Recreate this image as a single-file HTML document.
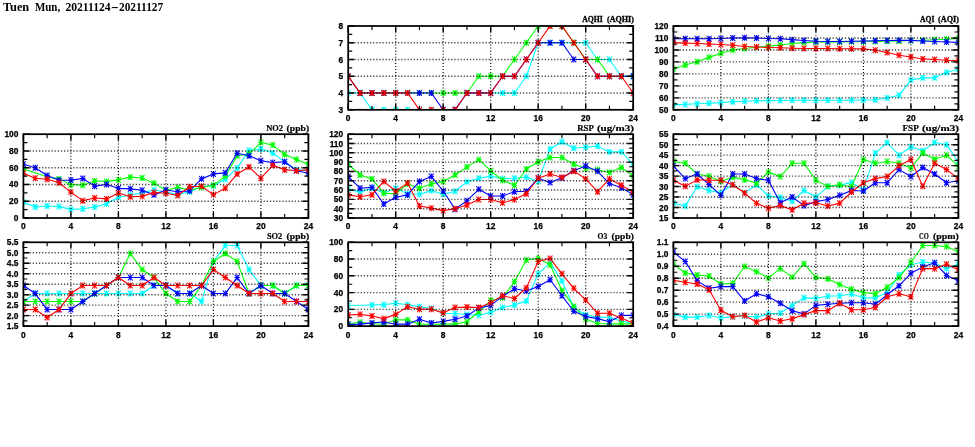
<!DOCTYPE html>
<html><head><meta charset="utf-8"><title>Tuen Mun, 20211124-20211127</title>
<style>
html,body{margin:0;padding:0;background:#fff}
svg{display:block}
.ttl{font-family:"Liberation Serif",serif;font-weight:bold;font-size:12px;fill:#000}
.tl{font-family:"Liberation Sans",sans-serif;font-weight:bold;font-size:8.4px;fill:#000;stroke:#000;stroke-width:0.25}
.ct{font-family:"Liberation Serif",serif;font-weight:bold;font-size:9.2px;fill:#000;stroke:#000;stroke-width:0.2}
.ct2{font-family:"Liberation Serif",serif;font-weight:bold;font-size:8.4px;fill:#000;stroke:#000;stroke-width:0.3}
.gv{stroke:#000;stroke-width:1.2;stroke-dasharray:1.1 1.97;stroke-opacity:.95;fill:none}
.gh{stroke:#000;stroke-width:1.4;stroke-dasharray:1.25 1.87;stroke-opacity:.72;fill:none}
.tk{stroke:#000;stroke-width:1.4;fill:none}
.tkm{stroke:#000;stroke-width:1.15;fill:none}
.fr{stroke:#000;stroke-width:1.75;fill:none}
.ln{fill:none;stroke-width:1.1;stroke-linejoin:round}
</style></head>
<body>
<svg width="975" height="447" viewBox="0 0 975 447">
<defs><g id="m"><path d="M-2.4,-2.9L2.4,2.9M-2.4,2.9L2.4,-2.9M0,-3L0,3M-2.7,0L2.7,0" fill="none" stroke-width="1.05"/></g></defs>
<rect width="975" height="447" fill="#fff"/>
<text y="10.9" class="ttl"><tspan x="3" textLength="26.2" lengthAdjust="spacingAndGlyphs">Tuen</tspan> <tspan x="34.9" textLength="25.3" lengthAdjust="spacingAndGlyphs">Mun,</tspan> <tspan x="65.4" textLength="45.2" lengthAdjust="spacingAndGlyphs">20211124</tspan><tspan x="111.1" textLength="7.7" lengthAdjust="spacingAndGlyphs">-</tspan><tspan x="119" textLength="44.2" lengthAdjust="spacingAndGlyphs">20211127</tspan></text>
<g>
<clipPath id="cp1"><rect x="348.2" y="26" width="285" height="83.8"/></clipPath>
<g clip-path="url(#cp1)">
<polyline class="ln" stroke="#00ffff" points="348.2,93.04 360.07,93.04 371.95,109.8 383.82,109.8 395.7,109.8 407.57,109.8 419.45,109.8 431.32,109.8 443.2,109.8 455.07,109.8 466.95,93.04 478.82,93.04 490.7,93.04 502.57,93.04 514.45,93.04 526.33,76.28 538.2,42.76 550.08,42.76 561.95,42.76 573.83,42.76 585.7,42.76 597.58,59.52 609.45,59.52 621.33,76.28 633.2,76.28"/>
<g stroke="#00ffff"><use href="#m" x="348.2" y="93.04"/><use href="#m" x="360.07" y="93.04"/><use href="#m" x="371.95" y="109.8"/><use href="#m" x="383.82" y="109.8"/><use href="#m" x="395.7" y="109.8"/><use href="#m" x="407.57" y="109.8"/><use href="#m" x="419.45" y="109.8"/><use href="#m" x="431.32" y="109.8"/><use href="#m" x="443.2" y="109.8"/><use href="#m" x="455.07" y="109.8"/><use href="#m" x="466.95" y="93.04"/><use href="#m" x="478.82" y="93.04"/><use href="#m" x="490.7" y="93.04"/><use href="#m" x="502.57" y="93.04"/><use href="#m" x="514.45" y="93.04"/><use href="#m" x="526.33" y="76.28"/><use href="#m" x="538.2" y="42.76"/><use href="#m" x="550.08" y="42.76"/><use href="#m" x="561.95" y="42.76"/><use href="#m" x="573.83" y="42.76"/><use href="#m" x="585.7" y="42.76"/><use href="#m" x="597.58" y="59.52"/><use href="#m" x="609.45" y="59.52"/><use href="#m" x="621.33" y="76.28"/><use href="#m" x="633.2" y="76.28"/></g>
<polyline class="ln" stroke="#00ff00" points="348.2,76.28 360.07,93.04 371.95,93.04 383.82,93.04 395.7,93.04 407.57,93.04 419.45,93.04 431.32,93.04 443.2,93.04 455.07,93.04 466.95,93.04 478.82,76.28 490.7,76.28 502.57,76.28 514.45,59.52 526.33,42.76 538.2,26 550.08,26 561.95,26 573.83,42.76 585.7,59.52 597.58,59.52 609.45,76.28 621.33,76.28 633.2,76.28"/>
<g stroke="#00ff00"><use href="#m" x="348.2" y="76.28"/><use href="#m" x="360.07" y="93.04"/><use href="#m" x="371.95" y="93.04"/><use href="#m" x="383.82" y="93.04"/><use href="#m" x="395.7" y="93.04"/><use href="#m" x="407.57" y="93.04"/><use href="#m" x="419.45" y="93.04"/><use href="#m" x="431.32" y="93.04"/><use href="#m" x="443.2" y="93.04"/><use href="#m" x="455.07" y="93.04"/><use href="#m" x="466.95" y="93.04"/><use href="#m" x="478.82" y="76.28"/><use href="#m" x="490.7" y="76.28"/><use href="#m" x="502.57" y="76.28"/><use href="#m" x="514.45" y="59.52"/><use href="#m" x="526.33" y="42.76"/><use href="#m" x="538.2" y="26"/><use href="#m" x="550.08" y="26"/><use href="#m" x="561.95" y="26"/><use href="#m" x="573.83" y="42.76"/><use href="#m" x="585.7" y="59.52"/><use href="#m" x="597.58" y="59.52"/><use href="#m" x="609.45" y="76.28"/><use href="#m" x="621.33" y="76.28"/><use href="#m" x="633.2" y="76.28"/></g>
<polyline class="ln" stroke="#0000ff" points="348.2,76.28 360.07,93.04 371.95,93.04 383.82,93.04 395.7,93.04 407.57,93.04 419.45,93.04 431.32,93.04 443.2,109.8 455.07,109.8 466.95,93.04 478.82,93.04 490.7,93.04 502.57,76.28 514.45,76.28 526.33,59.52 538.2,42.76 550.08,42.76 561.95,42.76 573.83,59.52 585.7,59.52 597.58,76.28 609.45,76.28 621.33,76.28 633.2,76.28"/>
<g stroke="#0000ff"><use href="#m" x="348.2" y="76.28"/><use href="#m" x="360.07" y="93.04"/><use href="#m" x="371.95" y="93.04"/><use href="#m" x="383.82" y="93.04"/><use href="#m" x="395.7" y="93.04"/><use href="#m" x="407.57" y="93.04"/><use href="#m" x="419.45" y="93.04"/><use href="#m" x="431.32" y="93.04"/><use href="#m" x="443.2" y="109.8"/><use href="#m" x="455.07" y="109.8"/><use href="#m" x="466.95" y="93.04"/><use href="#m" x="478.82" y="93.04"/><use href="#m" x="490.7" y="93.04"/><use href="#m" x="502.57" y="76.28"/><use href="#m" x="514.45" y="76.28"/><use href="#m" x="526.33" y="59.52"/><use href="#m" x="538.2" y="42.76"/><use href="#m" x="550.08" y="42.76"/><use href="#m" x="561.95" y="42.76"/><use href="#m" x="573.83" y="59.52"/><use href="#m" x="585.7" y="59.52"/><use href="#m" x="597.58" y="76.28"/><use href="#m" x="609.45" y="76.28"/><use href="#m" x="621.33" y="76.28"/><use href="#m" x="633.2" y="76.28"/></g>
<polyline class="ln" stroke="#ff0000" points="348.2,76.28 360.07,93.04 371.95,93.04 383.82,93.04 395.7,93.04 407.57,93.04 419.45,109.8 431.32,109.8 443.2,109.8 455.07,109.8 466.95,93.04 478.82,93.04 490.7,93.04 502.57,76.28 514.45,76.28 526.33,59.52 538.2,42.76 550.08,26 561.95,26 573.83,42.76 585.7,59.52 597.58,76.28 609.45,76.28 621.33,76.28 633.2,93.04"/>
<g stroke="#ff0000"><use href="#m" x="348.2" y="76.28"/><use href="#m" x="360.07" y="93.04"/><use href="#m" x="371.95" y="93.04"/><use href="#m" x="383.82" y="93.04"/><use href="#m" x="395.7" y="93.04"/><use href="#m" x="407.57" y="93.04"/><use href="#m" x="419.45" y="109.8"/><use href="#m" x="431.32" y="109.8"/><use href="#m" x="443.2" y="109.8"/><use href="#m" x="455.07" y="109.8"/><use href="#m" x="466.95" y="93.04"/><use href="#m" x="478.82" y="93.04"/><use href="#m" x="490.7" y="93.04"/><use href="#m" x="502.57" y="76.28"/><use href="#m" x="514.45" y="76.28"/><use href="#m" x="526.33" y="59.52"/><use href="#m" x="538.2" y="42.76"/><use href="#m" x="550.08" y="26"/><use href="#m" x="561.95" y="26"/><use href="#m" x="573.83" y="42.76"/><use href="#m" x="585.7" y="59.52"/><use href="#m" x="597.58" y="76.28"/><use href="#m" x="609.45" y="76.28"/><use href="#m" x="621.33" y="76.28"/><use href="#m" x="633.2" y="93.04"/></g>
</g>
<path class="gv" d="M395.7,26V109.8M443.2,26V109.8M490.7,26V109.8M538.2,26V109.8M585.7,26V109.8"/>
<path class="gh" d="M348.2,93.04H633.2M348.2,76.28H633.2M348.2,59.52H633.2M348.2,42.76H633.2"/>
<path class="tk" d="M348.2,109.8v-6 M348.2,26v6M395.7,109.8v-6 M395.7,26v6M443.2,109.8v-6 M443.2,26v6M490.7,109.8v-6 M490.7,26v6M538.2,109.8v-6 M538.2,26v6M585.7,109.8v-6 M585.7,26v6M633.2,109.8v-6 M633.2,26v6M348.2,109.8h6 M633.2,109.8h-6M348.2,93.04h6 M633.2,93.04h-6M348.2,76.28h6 M633.2,76.28h-6M348.2,59.52h6 M633.2,59.52h-6M348.2,42.76h6 M633.2,42.76h-6M348.2,26h6 M633.2,26h-6"/>
<path class="tkm" d="M371.95,109.8v-4 M371.95,26v4M419.45,109.8v-4 M419.45,26v4M466.95,109.8v-4 M466.95,26v4M514.45,109.8v-4 M514.45,26v4M561.95,109.8v-4 M561.95,26v4M609.45,109.8v-4 M609.45,26v4M348.2,101.42h4 M633.2,101.42h-4M348.2,84.66h4 M633.2,84.66h-4M348.2,67.9h4 M633.2,67.9h-4M348.2,51.14h4 M633.2,51.14h-4M348.2,34.38h4 M633.2,34.38h-4"/>
<rect class="fr" x="348.2" y="26" width="285" height="83.8"/>
<text class="tl" text-anchor="end" x="343.2" y="112.8">3</text>
<text class="tl" text-anchor="end" x="343.2" y="96.04">4</text>
<text class="tl" text-anchor="end" x="343.2" y="79.28">5</text>
<text class="tl" text-anchor="end" x="343.2" y="62.52">6</text>
<text class="tl" text-anchor="end" x="343.2" y="45.76">7</text>
<text class="tl" text-anchor="end" x="343.2" y="29">8</text>
<text class="tl" text-anchor="middle" x="348.2" y="121.2">0</text>
<text class="tl" text-anchor="middle" x="395.7" y="121.2">4</text>
<text class="tl" text-anchor="middle" x="443.2" y="121.2">8</text>
<text class="tl" text-anchor="middle" x="490.7" y="121.2">12</text>
<text class="tl" text-anchor="middle" x="538.2" y="121.2">16</text>
<text class="tl" text-anchor="middle" x="585.7" y="121.2">20</text>
<text class="tl" text-anchor="middle" x="633.2" y="121.2">24</text>
<text class="ct2" y="22.3"><tspan x="582.2" textLength="20.5" lengthAdjust="spacingAndGlyphs">AQHI</tspan> <tspan x="607" textLength="26.9" lengthAdjust="spacingAndGlyphs">(AQHI)</tspan></text>
</g>
<g>
<clipPath id="cp2"><rect x="673.4" y="26" width="285" height="83.8"/></clipPath>
<g clip-path="url(#cp2)">
<polyline class="ln" stroke="#00ffff" points="673.4,104.89 685.27,104.41 697.15,103.81 709.02,103.22 720.9,102.62 732.77,101.66 744.65,101.3 756.52,100.82 768.4,100.46 780.27,100.46 792.15,100.22 804.02,100.22 815.9,100.22 827.77,100.22 839.65,100.22 851.52,100.22 863.4,99.98 875.27,99.74 887.15,98.07 899.02,95.31 910.9,79.87 922.77,77.84 934.65,77.84 946.52,72.45 958.4,69.22"/>
<g stroke="#00ffff"><use href="#m" x="673.4" y="104.89"/><use href="#m" x="685.27" y="104.41"/><use href="#m" x="697.15" y="103.81"/><use href="#m" x="709.02" y="103.22"/><use href="#m" x="720.9" y="102.62"/><use href="#m" x="732.77" y="101.66"/><use href="#m" x="744.65" y="101.3"/><use href="#m" x="756.52" y="100.82"/><use href="#m" x="768.4" y="100.46"/><use href="#m" x="780.27" y="100.46"/><use href="#m" x="792.15" y="100.22"/><use href="#m" x="804.02" y="100.22"/><use href="#m" x="815.9" y="100.22"/><use href="#m" x="827.77" y="100.22"/><use href="#m" x="839.65" y="100.22"/><use href="#m" x="851.52" y="100.22"/><use href="#m" x="863.4" y="99.98"/><use href="#m" x="875.27" y="99.74"/><use href="#m" x="887.15" y="98.07"/><use href="#m" x="899.02" y="95.31"/><use href="#m" x="910.9" y="79.87"/><use href="#m" x="922.77" y="77.84"/><use href="#m" x="934.65" y="77.84"/><use href="#m" x="946.52" y="72.45"/><use href="#m" x="958.4" y="69.22"/></g>
<polyline class="ln" stroke="#00ff00" points="673.4,69.1 685.27,64.91 697.15,61.67 709.02,57.37 720.9,53.18 732.77,49.94 744.65,48.51 756.52,47.19 768.4,46.11 780.27,45.03 792.15,43.48 804.02,42.64 815.9,41.92 827.77,42.04 839.65,42.04 851.52,41.8 863.4,41.68 875.27,41.44 887.15,41.2 899.02,40.96 910.9,40.49 922.77,40.25 934.65,39.77 946.52,39.29 958.4,38.45"/>
<g stroke="#00ff00"><use href="#m" x="673.4" y="69.1"/><use href="#m" x="685.27" y="64.91"/><use href="#m" x="697.15" y="61.67"/><use href="#m" x="709.02" y="57.37"/><use href="#m" x="720.9" y="53.18"/><use href="#m" x="732.77" y="49.94"/><use href="#m" x="744.65" y="48.51"/><use href="#m" x="756.52" y="47.19"/><use href="#m" x="768.4" y="46.11"/><use href="#m" x="780.27" y="45.03"/><use href="#m" x="792.15" y="43.48"/><use href="#m" x="804.02" y="42.64"/><use href="#m" x="815.9" y="41.92"/><use href="#m" x="827.77" y="42.04"/><use href="#m" x="839.65" y="42.04"/><use href="#m" x="851.52" y="41.8"/><use href="#m" x="863.4" y="41.68"/><use href="#m" x="875.27" y="41.44"/><use href="#m" x="887.15" y="41.2"/><use href="#m" x="899.02" y="40.96"/><use href="#m" x="910.9" y="40.49"/><use href="#m" x="922.77" y="40.25"/><use href="#m" x="934.65" y="39.77"/><use href="#m" x="946.52" y="39.29"/><use href="#m" x="958.4" y="38.45"/></g>
<polyline class="ln" stroke="#0000ff" points="673.4,38.81 685.27,38.81 697.15,38.69 709.02,38.69 720.9,38.45 732.77,37.97 744.65,37.73 756.52,37.97 768.4,38.45 780.27,38.81 792.15,39.65 804.02,40.49 815.9,41.2 827.77,41.44 839.65,41.44 851.52,41.2 863.4,40.96 875.27,40.72 887.15,40.49 899.02,40.37 910.9,40.37 922.77,40.96 934.65,41.56 946.52,42.04 958.4,42.4"/>
<g stroke="#0000ff"><use href="#m" x="673.4" y="38.81"/><use href="#m" x="685.27" y="38.81"/><use href="#m" x="697.15" y="38.69"/><use href="#m" x="709.02" y="38.69"/><use href="#m" x="720.9" y="38.45"/><use href="#m" x="732.77" y="37.97"/><use href="#m" x="744.65" y="37.73"/><use href="#m" x="756.52" y="37.97"/><use href="#m" x="768.4" y="38.45"/><use href="#m" x="780.27" y="38.81"/><use href="#m" x="792.15" y="39.65"/><use href="#m" x="804.02" y="40.49"/><use href="#m" x="815.9" y="41.2"/><use href="#m" x="827.77" y="41.44"/><use href="#m" x="839.65" y="41.44"/><use href="#m" x="851.52" y="41.2"/><use href="#m" x="863.4" y="40.96"/><use href="#m" x="875.27" y="40.72"/><use href="#m" x="887.15" y="40.49"/><use href="#m" x="899.02" y="40.37"/><use href="#m" x="910.9" y="40.37"/><use href="#m" x="922.77" y="40.96"/><use href="#m" x="934.65" y="41.56"/><use href="#m" x="946.52" y="42.04"/><use href="#m" x="958.4" y="42.4"/></g>
<polyline class="ln" stroke="#ff0000" points="673.4,42.64 685.27,43.12 697.15,43.48 709.02,43.96 720.9,44.44 732.77,45.27 744.65,46.47 756.52,46.95 768.4,47.43 780.27,47.79 792.15,48.27 804.02,48.51 815.9,48.51 827.77,48.51 839.65,48.75 851.52,48.75 863.4,48.87 875.27,50.18 887.15,52.46 899.02,55.33 910.9,57.01 922.77,58.92 934.65,59.52 946.52,60.24 958.4,60.6"/>
<g stroke="#ff0000"><use href="#m" x="673.4" y="42.64"/><use href="#m" x="685.27" y="43.12"/><use href="#m" x="697.15" y="43.48"/><use href="#m" x="709.02" y="43.96"/><use href="#m" x="720.9" y="44.44"/><use href="#m" x="732.77" y="45.27"/><use href="#m" x="744.65" y="46.47"/><use href="#m" x="756.52" y="46.95"/><use href="#m" x="768.4" y="47.43"/><use href="#m" x="780.27" y="47.79"/><use href="#m" x="792.15" y="48.27"/><use href="#m" x="804.02" y="48.51"/><use href="#m" x="815.9" y="48.51"/><use href="#m" x="827.77" y="48.51"/><use href="#m" x="839.65" y="48.75"/><use href="#m" x="851.52" y="48.75"/><use href="#m" x="863.4" y="48.87"/><use href="#m" x="875.27" y="50.18"/><use href="#m" x="887.15" y="52.46"/><use href="#m" x="899.02" y="55.33"/><use href="#m" x="910.9" y="57.01"/><use href="#m" x="922.77" y="58.92"/><use href="#m" x="934.65" y="59.52"/><use href="#m" x="946.52" y="60.24"/><use href="#m" x="958.4" y="60.6"/></g>
</g>
<path class="gv" d="M720.9,26V109.8M768.4,26V109.8M815.9,26V109.8M863.4,26V109.8M910.9,26V109.8"/>
<path class="gh" d="M673.4,97.83H958.4M673.4,85.86H958.4M673.4,73.89H958.4M673.4,61.91H958.4M673.4,49.94H958.4M673.4,37.97H958.4"/>
<path class="tk" d="M673.4,109.8v-6 M673.4,26v6M720.9,109.8v-6 M720.9,26v6M768.4,109.8v-6 M768.4,26v6M815.9,109.8v-6 M815.9,26v6M863.4,109.8v-6 M863.4,26v6M910.9,109.8v-6 M910.9,26v6M958.4,109.8v-6 M958.4,26v6M673.4,109.8h6 M958.4,109.8h-6M673.4,97.83h6 M958.4,97.83h-6M673.4,85.86h6 M958.4,85.86h-6M673.4,73.89h6 M958.4,73.89h-6M673.4,61.91h6 M958.4,61.91h-6M673.4,49.94h6 M958.4,49.94h-6M673.4,37.97h6 M958.4,37.97h-6M673.4,26h6 M958.4,26h-6"/>
<path class="tkm" d="M697.15,109.8v-4 M697.15,26v4M744.65,109.8v-4 M744.65,26v4M792.15,109.8v-4 M792.15,26v4M839.65,109.8v-4 M839.65,26v4M887.15,109.8v-4 M887.15,26v4M934.65,109.8v-4 M934.65,26v4M673.4,103.81h4 M958.4,103.81h-4M673.4,91.84h4 M958.4,91.84h-4M673.4,79.87h4 M958.4,79.87h-4M673.4,67.9h4 M958.4,67.9h-4M673.4,55.93h4 M958.4,55.93h-4M673.4,43.96h4 M958.4,43.96h-4M673.4,31.99h4 M958.4,31.99h-4"/>
<rect class="fr" x="673.4" y="26" width="285" height="83.8"/>
<text class="tl" text-anchor="end" x="668.4" y="112.8">50</text>
<text class="tl" text-anchor="end" x="668.4" y="100.83">60</text>
<text class="tl" text-anchor="end" x="668.4" y="88.86">70</text>
<text class="tl" text-anchor="end" x="668.4" y="76.89">80</text>
<text class="tl" text-anchor="end" x="668.4" y="64.91">90</text>
<text class="tl" text-anchor="end" x="668.4" y="52.94">100</text>
<text class="tl" text-anchor="end" x="668.4" y="40.97">110</text>
<text class="tl" text-anchor="end" x="668.4" y="29">120</text>
<text class="tl" text-anchor="middle" x="673.4" y="121.2">0</text>
<text class="tl" text-anchor="middle" x="720.9" y="121.2">4</text>
<text class="tl" text-anchor="middle" x="768.4" y="121.2">8</text>
<text class="tl" text-anchor="middle" x="815.9" y="121.2">12</text>
<text class="tl" text-anchor="middle" x="863.4" y="121.2">16</text>
<text class="tl" text-anchor="middle" x="910.9" y="121.2">20</text>
<text class="tl" text-anchor="middle" x="958.4" y="121.2">24</text>
<text class="ct2" y="22.3"><tspan x="920" textLength="14.4" lengthAdjust="spacingAndGlyphs">AQI</tspan> <tspan x="938" textLength="21" lengthAdjust="spacingAndGlyphs">(AQI)</tspan></text>
</g>
<g>
<clipPath id="cp3"><rect x="23.4" y="134.2" width="285" height="83.8"/></clipPath>
<g clip-path="url(#cp3)">
<polyline class="ln" stroke="#00ffff" points="23.4,202.33 35.27,207.02 47.15,206.02 59.02,206.6 70.9,209.37 82.78,208.78 94.65,207.11 106.53,203.84 118.4,197.22 130.28,194.95 142.15,192.86 154.03,189.93 165.9,192.02 177.78,194.62 189.65,191.69 201.53,186.74 213.4,185.65 225.28,179.28 237.15,167.97 249.03,150.37 260.9,148.95 272.77,152.97 284.65,161.85 296.52,169.65 308.4,170.74"/>
<g stroke="#00ffff"><use href="#m" x="23.4" y="202.33"/><use href="#m" x="35.27" y="207.02"/><use href="#m" x="47.15" y="206.02"/><use href="#m" x="59.02" y="206.6"/><use href="#m" x="70.9" y="209.37"/><use href="#m" x="82.78" y="208.78"/><use href="#m" x="94.65" y="207.11"/><use href="#m" x="106.53" y="203.84"/><use href="#m" x="118.4" y="197.22"/><use href="#m" x="130.28" y="194.95"/><use href="#m" x="142.15" y="192.86"/><use href="#m" x="154.03" y="189.93"/><use href="#m" x="165.9" y="192.02"/><use href="#m" x="177.78" y="194.62"/><use href="#m" x="189.65" y="191.69"/><use href="#m" x="201.53" y="186.74"/><use href="#m" x="213.4" y="185.65"/><use href="#m" x="225.28" y="179.28"/><use href="#m" x="237.15" y="167.97"/><use href="#m" x="249.03" y="150.37"/><use href="#m" x="260.9" y="148.95"/><use href="#m" x="272.77" y="152.97"/><use href="#m" x="284.65" y="161.85"/><use href="#m" x="296.52" y="169.65"/><use href="#m" x="308.4" y="170.74"/></g>
<polyline class="ln" stroke="#00ff00" points="23.4,168.98 47.15,176.69 59.02,178.87 70.9,184.65 82.78,185.32 94.65,180.96 106.53,181.38 118.4,179.87 130.28,177.11 142.15,177.94 154.03,183.14 165.9,190.18 177.78,187.41 189.65,189.93 201.53,187.41 213.4,185.32 225.28,176.1 237.15,155.74 249.03,154.06 260.9,142.58 272.77,145.09 284.65,154.48 296.52,159.59 308.4,164.37"/>
<g stroke="#00ff00"><use href="#m" x="23.4" y="168.98"/><use href="#m" x="47.15" y="176.69"/><use href="#m" x="59.02" y="178.87"/><use href="#m" x="70.9" y="184.65"/><use href="#m" x="82.78" y="185.32"/><use href="#m" x="94.65" y="180.96"/><use href="#m" x="106.53" y="181.38"/><use href="#m" x="118.4" y="179.87"/><use href="#m" x="130.28" y="177.11"/><use href="#m" x="142.15" y="177.94"/><use href="#m" x="154.03" y="183.14"/><use href="#m" x="165.9" y="190.18"/><use href="#m" x="177.78" y="187.41"/><use href="#m" x="189.65" y="189.93"/><use href="#m" x="201.53" y="187.41"/><use href="#m" x="213.4" y="185.32"/><use href="#m" x="225.28" y="176.1"/><use href="#m" x="237.15" y="155.74"/><use href="#m" x="249.03" y="154.06"/><use href="#m" x="260.9" y="142.58"/><use href="#m" x="272.77" y="145.09"/><use href="#m" x="284.65" y="154.48"/><use href="#m" x="296.52" y="159.59"/><use href="#m" x="308.4" y="164.37"/></g>
<polyline class="ln" stroke="#0000ff" points="23.4,164.28 35.27,167.72 47.15,175.43 59.02,180.29 70.9,180.12 82.78,178.45 94.65,186.16 106.53,184.48 118.4,188.33 130.28,188.84 142.15,190.18 154.03,194.87 165.9,189.93 177.78,191.69 189.65,190.85 201.53,178.87 213.4,173.92 225.28,172.83 237.15,153.22 249.03,155.74 260.9,160.68 272.77,162.61 284.65,161.77 296.52,170.74 308.4,173.25"/>
<g stroke="#0000ff"><use href="#m" x="23.4" y="164.28"/><use href="#m" x="35.27" y="167.72"/><use href="#m" x="47.15" y="175.43"/><use href="#m" x="59.02" y="180.29"/><use href="#m" x="70.9" y="180.12"/><use href="#m" x="82.78" y="178.45"/><use href="#m" x="94.65" y="186.16"/><use href="#m" x="106.53" y="184.48"/><use href="#m" x="118.4" y="188.33"/><use href="#m" x="130.28" y="188.84"/><use href="#m" x="142.15" y="190.18"/><use href="#m" x="154.03" y="194.87"/><use href="#m" x="165.9" y="189.93"/><use href="#m" x="177.78" y="191.69"/><use href="#m" x="189.65" y="190.85"/><use href="#m" x="201.53" y="178.87"/><use href="#m" x="213.4" y="173.92"/><use href="#m" x="225.28" y="172.83"/><use href="#m" x="237.15" y="153.22"/><use href="#m" x="249.03" y="155.74"/><use href="#m" x="260.9" y="160.68"/><use href="#m" x="272.77" y="162.61"/><use href="#m" x="284.65" y="161.77"/><use href="#m" x="296.52" y="170.74"/><use href="#m" x="308.4" y="173.25"/></g>
<polyline class="ln" stroke="#ff0000" points="23.4,173.25 35.27,178.19 47.15,179.28 59.02,182.72 70.9,192.11 82.78,200.65 94.65,198.06 106.53,198.89 118.4,192.94 130.28,196.8 142.15,196.38 154.03,192.52 165.9,193.2 177.78,195.54 189.65,186.74 201.53,186.32 213.4,194.62 225.28,188.25 237.15,173.92 249.03,167.05 260.9,178.19 272.77,165.37 284.65,169.65 296.52,170.74 308.4,169.65"/>
<g stroke="#ff0000"><use href="#m" x="23.4" y="173.25"/><use href="#m" x="35.27" y="178.19"/><use href="#m" x="47.15" y="179.28"/><use href="#m" x="59.02" y="182.72"/><use href="#m" x="70.9" y="192.11"/><use href="#m" x="82.78" y="200.65"/><use href="#m" x="94.65" y="198.06"/><use href="#m" x="106.53" y="198.89"/><use href="#m" x="118.4" y="192.94"/><use href="#m" x="130.28" y="196.8"/><use href="#m" x="142.15" y="196.38"/><use href="#m" x="154.03" y="192.52"/><use href="#m" x="165.9" y="193.2"/><use href="#m" x="177.78" y="195.54"/><use href="#m" x="189.65" y="186.74"/><use href="#m" x="201.53" y="186.32"/><use href="#m" x="213.4" y="194.62"/><use href="#m" x="225.28" y="188.25"/><use href="#m" x="237.15" y="173.92"/><use href="#m" x="249.03" y="167.05"/><use href="#m" x="260.9" y="178.19"/><use href="#m" x="272.77" y="165.37"/><use href="#m" x="284.65" y="169.65"/><use href="#m" x="296.52" y="170.74"/><use href="#m" x="308.4" y="169.65"/></g>
</g>
<path class="gv" d="M70.9,134.2V218M118.4,134.2V218M165.9,134.2V218M213.4,134.2V218M260.9,134.2V218"/>
<path class="gh" d="M23.4,201.24H308.4M23.4,184.48H308.4M23.4,167.72H308.4M23.4,150.96H308.4"/>
<path class="tk" d="M23.4,218v-6 M23.4,134.2v6M70.9,218v-6 M70.9,134.2v6M118.4,218v-6 M118.4,134.2v6M165.9,218v-6 M165.9,134.2v6M213.4,218v-6 M213.4,134.2v6M260.9,218v-6 M260.9,134.2v6M308.4,218v-6 M308.4,134.2v6M23.4,218h6 M308.4,218h-6M23.4,201.24h6 M308.4,201.24h-6M23.4,184.48h6 M308.4,184.48h-6M23.4,167.72h6 M308.4,167.72h-6M23.4,150.96h6 M308.4,150.96h-6M23.4,134.2h6 M308.4,134.2h-6"/>
<path class="tkm" d="M47.15,218v-4 M47.15,134.2v4M94.65,218v-4 M94.65,134.2v4M142.15,218v-4 M142.15,134.2v4M189.65,218v-4 M189.65,134.2v4M237.15,218v-4 M237.15,134.2v4M284.65,218v-4 M284.65,134.2v4M23.4,209.62h4 M308.4,209.62h-4M23.4,192.86h4 M308.4,192.86h-4M23.4,176.1h4 M308.4,176.1h-4M23.4,159.34h4 M308.4,159.34h-4M23.4,142.58h4 M308.4,142.58h-4"/>
<rect class="fr" x="23.4" y="134.2" width="285" height="83.8"/>
<text class="tl" text-anchor="end" x="18.4" y="221">0</text>
<text class="tl" text-anchor="end" x="18.4" y="204.24">20</text>
<text class="tl" text-anchor="end" x="18.4" y="187.48">40</text>
<text class="tl" text-anchor="end" x="18.4" y="170.72">60</text>
<text class="tl" text-anchor="end" x="18.4" y="153.96">80</text>
<text class="tl" text-anchor="end" x="18.4" y="137.2">100</text>
<text class="tl" text-anchor="middle" x="23.4" y="229.4">0</text>
<text class="tl" text-anchor="middle" x="70.9" y="229.4">4</text>
<text class="tl" text-anchor="middle" x="118.4" y="229.4">8</text>
<text class="tl" text-anchor="middle" x="165.9" y="229.4">12</text>
<text class="tl" text-anchor="middle" x="213.4" y="229.4">16</text>
<text class="tl" text-anchor="middle" x="260.9" y="229.4">20</text>
<text class="tl" text-anchor="middle" x="308.4" y="229.4">24</text>
<text class="ct" y="130.9"><tspan x="266.2" textLength="16.8" lengthAdjust="spacingAndGlyphs">NO2</tspan> <tspan x="286.6" textLength="22.6" lengthAdjust="spacingAndGlyphs">(ppb)</tspan></text>
</g>
<g>
<clipPath id="cp4"><rect x="348.2" y="134.2" width="285" height="83.8"/></clipPath>
<g clip-path="url(#cp4)">
<polyline class="ln" stroke="#00ffff" points="348.2,189.32 360.07,192.12 371.95,188.2 383.82,192.86 395.7,188.2 407.57,193.79 419.45,194.26 431.32,190.63 443.2,194.26 455.07,191.28 466.95,181.87 478.82,178.24 490.7,176.1 502.57,178.61 514.45,178.24 526.33,177.12 538.2,181.41 550.08,148.91 561.95,141.84 573.83,148.26 585.7,147.24 597.58,146.12 609.45,151.89 621.33,151.89 633.2,164.27"/>
<g stroke="#00ffff"><use href="#m" x="348.2" y="189.32"/><use href="#m" x="360.07" y="192.12"/><use href="#m" x="371.95" y="188.2"/><use href="#m" x="383.82" y="192.86"/><use href="#m" x="395.7" y="188.2"/><use href="#m" x="407.57" y="193.79"/><use href="#m" x="419.45" y="194.26"/><use href="#m" x="431.32" y="190.63"/><use href="#m" x="443.2" y="194.26"/><use href="#m" x="455.07" y="191.28"/><use href="#m" x="466.95" y="181.87"/><use href="#m" x="478.82" y="178.24"/><use href="#m" x="490.7" y="176.1"/><use href="#m" x="502.57" y="178.61"/><use href="#m" x="514.45" y="178.24"/><use href="#m" x="526.33" y="177.12"/><use href="#m" x="538.2" y="181.41"/><use href="#m" x="550.08" y="148.91"/><use href="#m" x="561.95" y="141.84"/><use href="#m" x="573.83" y="148.26"/><use href="#m" x="585.7" y="147.24"/><use href="#m" x="597.58" y="146.12"/><use href="#m" x="609.45" y="151.89"/><use href="#m" x="621.33" y="151.89"/><use href="#m" x="633.2" y="164.27"/></g>
<polyline class="ln" stroke="#00ff00" points="348.2,164.27 360.07,174.98 371.95,178.89 383.82,193.14 395.7,193.88 407.57,184.01 419.45,188.2 431.32,184.01 443.2,181.41 455.07,174.98 466.95,166.88 478.82,159.62 490.7,170.7 502.57,180.38 514.45,185.22 526.33,169.02 538.2,161.76 550.08,157.48 561.95,157.48 573.83,164.27 585.7,168.56 597.58,169.68 609.45,172.47 621.33,167.53 633.2,176.1"/>
<g stroke="#00ff00"><use href="#m" x="348.2" y="164.27"/><use href="#m" x="360.07" y="174.98"/><use href="#m" x="371.95" y="178.89"/><use href="#m" x="383.82" y="193.14"/><use href="#m" x="395.7" y="193.88"/><use href="#m" x="407.57" y="184.01"/><use href="#m" x="419.45" y="188.2"/><use href="#m" x="431.32" y="184.01"/><use href="#m" x="443.2" y="181.41"/><use href="#m" x="455.07" y="174.98"/><use href="#m" x="466.95" y="166.88"/><use href="#m" x="478.82" y="159.62"/><use href="#m" x="490.7" y="170.7"/><use href="#m" x="502.57" y="180.38"/><use href="#m" x="514.45" y="185.22"/><use href="#m" x="526.33" y="169.02"/><use href="#m" x="538.2" y="161.76"/><use href="#m" x="550.08" y="157.48"/><use href="#m" x="561.95" y="157.48"/><use href="#m" x="573.83" y="164.27"/><use href="#m" x="585.7" y="168.56"/><use href="#m" x="597.58" y="169.68"/><use href="#m" x="609.45" y="172.47"/><use href="#m" x="621.33" y="167.53"/><use href="#m" x="633.2" y="176.1"/></g>
<polyline class="ln" stroke="#0000ff" points="348.2,176.66 360.07,188.2 371.95,187.37 383.82,204.03 395.7,197.24 407.57,194.91 419.45,181.41 431.32,176.47 443.2,191 455.07,209.15 466.95,200.68 478.82,189.32 490.7,195.93 502.57,195.93 514.45,191.65 526.33,191.28 538.2,178.24 550.08,182.43 561.95,177.78 573.83,170.7 585.7,166.04 597.58,171.35 609.45,183.55 621.33,187.83 633.2,194.63"/>
<g stroke="#0000ff"><use href="#m" x="348.2" y="176.66"/><use href="#m" x="360.07" y="188.2"/><use href="#m" x="371.95" y="187.37"/><use href="#m" x="383.82" y="204.03"/><use href="#m" x="395.7" y="197.24"/><use href="#m" x="407.57" y="194.91"/><use href="#m" x="419.45" y="181.41"/><use href="#m" x="431.32" y="176.47"/><use href="#m" x="443.2" y="191"/><use href="#m" x="455.07" y="209.15"/><use href="#m" x="466.95" y="200.68"/><use href="#m" x="478.82" y="189.32"/><use href="#m" x="490.7" y="195.93"/><use href="#m" x="502.57" y="195.93"/><use href="#m" x="514.45" y="191.65"/><use href="#m" x="526.33" y="191.28"/><use href="#m" x="538.2" y="178.24"/><use href="#m" x="550.08" y="182.43"/><use href="#m" x="561.95" y="177.78"/><use href="#m" x="573.83" y="170.7"/><use href="#m" x="585.7" y="166.04"/><use href="#m" x="597.58" y="171.35"/><use href="#m" x="609.45" y="183.55"/><use href="#m" x="621.33" y="187.83"/><use href="#m" x="633.2" y="194.63"/></g>
<polyline class="ln" stroke="#ff0000" points="348.2,194.91 360.07,196.77 371.95,194.72 383.82,181.41 395.7,191.28 407.57,183.08 419.45,205.99 431.32,208.13 443.2,210.64 455.07,208.78 466.95,204.96 478.82,199.56 490.7,199.56 502.57,202.82 514.45,199.56 526.33,193.79 538.2,178.24 550.08,173.96 561.95,177.59 573.83,171.17 585.7,178.89 597.58,191.65 609.45,178.89 621.33,185.22 633.2,192.12"/>
<g stroke="#ff0000"><use href="#m" x="348.2" y="194.91"/><use href="#m" x="360.07" y="196.77"/><use href="#m" x="371.95" y="194.72"/><use href="#m" x="383.82" y="181.41"/><use href="#m" x="395.7" y="191.28"/><use href="#m" x="407.57" y="183.08"/><use href="#m" x="419.45" y="205.99"/><use href="#m" x="431.32" y="208.13"/><use href="#m" x="443.2" y="210.64"/><use href="#m" x="455.07" y="208.78"/><use href="#m" x="466.95" y="204.96"/><use href="#m" x="478.82" y="199.56"/><use href="#m" x="490.7" y="199.56"/><use href="#m" x="502.57" y="202.82"/><use href="#m" x="514.45" y="199.56"/><use href="#m" x="526.33" y="193.79"/><use href="#m" x="538.2" y="178.24"/><use href="#m" x="550.08" y="173.96"/><use href="#m" x="561.95" y="177.59"/><use href="#m" x="573.83" y="171.17"/><use href="#m" x="585.7" y="178.89"/><use href="#m" x="597.58" y="191.65"/><use href="#m" x="609.45" y="178.89"/><use href="#m" x="621.33" y="185.22"/><use href="#m" x="633.2" y="192.12"/></g>
</g>
<path class="gv" d="M395.7,134.2V218M443.2,134.2V218M490.7,134.2V218M538.2,134.2V218M585.7,134.2V218"/>
<path class="gh" d="M348.2,208.69H633.2M348.2,199.38H633.2M348.2,190.07H633.2M348.2,180.76H633.2M348.2,171.44H633.2M348.2,162.13H633.2M348.2,152.82H633.2M348.2,143.51H633.2"/>
<path class="tk" d="M348.2,218v-6 M348.2,134.2v6M395.7,218v-6 M395.7,134.2v6M443.2,218v-6 M443.2,134.2v6M490.7,218v-6 M490.7,134.2v6M538.2,218v-6 M538.2,134.2v6M585.7,218v-6 M585.7,134.2v6M633.2,218v-6 M633.2,134.2v6M348.2,218h6 M633.2,218h-6M348.2,208.69h6 M633.2,208.69h-6M348.2,199.38h6 M633.2,199.38h-6M348.2,190.07h6 M633.2,190.07h-6M348.2,180.76h6 M633.2,180.76h-6M348.2,171.44h6 M633.2,171.44h-6M348.2,162.13h6 M633.2,162.13h-6M348.2,152.82h6 M633.2,152.82h-6M348.2,143.51h6 M633.2,143.51h-6M348.2,134.2h6 M633.2,134.2h-6"/>
<path class="tkm" d="M371.95,218v-4 M371.95,134.2v4M419.45,218v-4 M419.45,134.2v4M466.95,218v-4 M466.95,134.2v4M514.45,218v-4 M514.45,134.2v4M561.95,218v-4 M561.95,134.2v4M609.45,218v-4 M609.45,134.2v4M348.2,213.34h4 M633.2,213.34h-4M348.2,204.03h4 M633.2,204.03h-4M348.2,194.72h4 M633.2,194.72h-4M348.2,185.41h4 M633.2,185.41h-4M348.2,176.1h4 M633.2,176.1h-4M348.2,166.79h4 M633.2,166.79h-4M348.2,157.48h4 M633.2,157.48h-4M348.2,148.17h4 M633.2,148.17h-4M348.2,138.86h4 M633.2,138.86h-4"/>
<rect class="fr" x="348.2" y="134.2" width="285" height="83.8"/>
<text class="tl" text-anchor="end" x="343.2" y="221">30</text>
<text class="tl" text-anchor="end" x="343.2" y="211.69">40</text>
<text class="tl" text-anchor="end" x="343.2" y="202.38">50</text>
<text class="tl" text-anchor="end" x="343.2" y="193.07">60</text>
<text class="tl" text-anchor="end" x="343.2" y="183.76">70</text>
<text class="tl" text-anchor="end" x="343.2" y="174.44">80</text>
<text class="tl" text-anchor="end" x="343.2" y="165.13">90</text>
<text class="tl" text-anchor="end" x="343.2" y="155.82">100</text>
<text class="tl" text-anchor="end" x="343.2" y="146.51">110</text>
<text class="tl" text-anchor="end" x="343.2" y="137.2">120</text>
<text class="tl" text-anchor="middle" x="348.2" y="229.4">0</text>
<text class="tl" text-anchor="middle" x="395.7" y="229.4">4</text>
<text class="tl" text-anchor="middle" x="443.2" y="229.4">8</text>
<text class="tl" text-anchor="middle" x="490.7" y="229.4">12</text>
<text class="tl" text-anchor="middle" x="538.2" y="229.4">16</text>
<text class="tl" text-anchor="middle" x="585.7" y="229.4">20</text>
<text class="tl" text-anchor="middle" x="633.2" y="229.4">24</text>
<text class="ct" y="130.9"><tspan x="577.2" textLength="16.1" lengthAdjust="spacingAndGlyphs">RSP</tspan> <tspan x="596.9" textLength="37" lengthAdjust="spacingAndGlyphs">(ug/m3)</tspan></text>
</g>
<g>
<clipPath id="cp5"><rect x="673.4" y="134.2" width="285" height="83.8"/></clipPath>
<g clip-path="url(#cp5)">
<polyline class="ln" stroke="#00ffff" points="673.4,203.34 685.27,206.06 697.15,186.78 709.02,190.56 720.9,192.86 732.77,184.48 744.65,192.86 756.52,184.69 768.4,196 780.27,197.47 792.15,201.24 804.02,190.56 815.9,197.05 827.77,186.37 839.65,185.32 851.52,182.38 863.4,189.93 875.27,153.06 887.15,142.58 899.02,155.15 910.9,146.77 922.77,150.75 934.65,142.58 946.52,144.68 958.4,162.06"/>
<g stroke="#00ffff"><use href="#m" x="673.4" y="203.34"/><use href="#m" x="685.27" y="206.06"/><use href="#m" x="697.15" y="186.78"/><use href="#m" x="709.02" y="190.56"/><use href="#m" x="720.9" y="192.86"/><use href="#m" x="732.77" y="184.48"/><use href="#m" x="744.65" y="192.86"/><use href="#m" x="756.52" y="184.69"/><use href="#m" x="768.4" y="196"/><use href="#m" x="780.27" y="197.47"/><use href="#m" x="792.15" y="201.24"/><use href="#m" x="804.02" y="190.56"/><use href="#m" x="815.9" y="197.05"/><use href="#m" x="827.77" y="186.37"/><use href="#m" x="839.65" y="185.32"/><use href="#m" x="851.52" y="182.38"/><use href="#m" x="863.4" y="189.93"/><use href="#m" x="875.27" y="153.06"/><use href="#m" x="887.15" y="142.58"/><use href="#m" x="899.02" y="155.15"/><use href="#m" x="910.9" y="146.77"/><use href="#m" x="922.77" y="150.75"/><use href="#m" x="934.65" y="142.58"/><use href="#m" x="946.52" y="144.68"/><use href="#m" x="958.4" y="162.06"/></g>
<polyline class="ln" stroke="#00ff00" points="673.4,161.44 685.27,163.32 697.15,174 709.02,176.31 720.9,181.34 732.77,177.15 744.65,179.87 756.52,183.01 768.4,172.12 780.27,176.52 792.15,163.32 804.02,163.32 815.9,180.29 827.77,186.37 839.65,184.69 851.52,186.78 863.4,159.55 875.27,163.32 887.15,161.44 899.02,163.32 910.9,167.93 922.77,153.06 934.65,159.34 946.52,155.15 958.4,166.46"/>
<g stroke="#00ff00"><use href="#m" x="673.4" y="161.44"/><use href="#m" x="685.27" y="163.32"/><use href="#m" x="697.15" y="174"/><use href="#m" x="709.02" y="176.31"/><use href="#m" x="720.9" y="181.34"/><use href="#m" x="732.77" y="177.15"/><use href="#m" x="744.65" y="179.87"/><use href="#m" x="756.52" y="183.01"/><use href="#m" x="768.4" y="172.12"/><use href="#m" x="780.27" y="176.52"/><use href="#m" x="792.15" y="163.32"/><use href="#m" x="804.02" y="163.32"/><use href="#m" x="815.9" y="180.29"/><use href="#m" x="827.77" y="186.37"/><use href="#m" x="839.65" y="184.69"/><use href="#m" x="851.52" y="186.78"/><use href="#m" x="863.4" y="159.55"/><use href="#m" x="875.27" y="163.32"/><use href="#m" x="887.15" y="161.44"/><use href="#m" x="899.02" y="163.32"/><use href="#m" x="910.9" y="167.93"/><use href="#m" x="922.77" y="153.06"/><use href="#m" x="934.65" y="159.34"/><use href="#m" x="946.52" y="155.15"/><use href="#m" x="958.4" y="166.46"/></g>
<polyline class="ln" stroke="#0000ff" points="673.4,165.83 685.27,178.61 697.15,174 709.02,184.48 720.9,195.37 732.77,174 744.65,174 756.52,178.61 768.4,180.29 780.27,202.71 792.15,197.05 804.02,205.64 815.9,201.66 827.77,199.56 839.65,195.37 851.52,190.56 863.4,190.97 875.27,182.8 887.15,182.8 899.02,169.61 910.9,176.52 922.77,167.51 934.65,174 946.52,182.8 958.4,180.71"/>
<g stroke="#0000ff"><use href="#m" x="673.4" y="165.83"/><use href="#m" x="685.27" y="178.61"/><use href="#m" x="697.15" y="174"/><use href="#m" x="709.02" y="184.48"/><use href="#m" x="720.9" y="195.37"/><use href="#m" x="732.77" y="174"/><use href="#m" x="744.65" y="174"/><use href="#m" x="756.52" y="178.61"/><use href="#m" x="768.4" y="180.29"/><use href="#m" x="780.27" y="202.71"/><use href="#m" x="792.15" y="197.05"/><use href="#m" x="804.02" y="205.64"/><use href="#m" x="815.9" y="201.66"/><use href="#m" x="827.77" y="199.56"/><use href="#m" x="839.65" y="195.37"/><use href="#m" x="851.52" y="190.56"/><use href="#m" x="863.4" y="190.97"/><use href="#m" x="875.27" y="182.8"/><use href="#m" x="887.15" y="182.8"/><use href="#m" x="899.02" y="169.61"/><use href="#m" x="910.9" y="176.52"/><use href="#m" x="922.77" y="167.51"/><use href="#m" x="934.65" y="174"/><use href="#m" x="946.52" y="182.8"/><use href="#m" x="958.4" y="180.71"/></g>
<polyline class="ln" stroke="#ff0000" points="673.4,180.29 685.27,186.16 697.15,179.87 709.02,180.29 720.9,180.29 732.77,184.69 744.65,193.07 756.52,203.34 768.4,208.15 780.27,205.64 792.15,209.83 804.02,203.34 815.9,202.71 827.77,206.06 839.65,203.34 851.52,192.02 863.4,182.8 875.27,178.61 887.15,176.52 899.02,165.83 910.9,159.55 922.77,186.16 934.65,163.32 946.52,169.61 958.4,178.61"/>
<g stroke="#ff0000"><use href="#m" x="673.4" y="180.29"/><use href="#m" x="685.27" y="186.16"/><use href="#m" x="697.15" y="179.87"/><use href="#m" x="709.02" y="180.29"/><use href="#m" x="720.9" y="180.29"/><use href="#m" x="732.77" y="184.69"/><use href="#m" x="744.65" y="193.07"/><use href="#m" x="756.52" y="203.34"/><use href="#m" x="768.4" y="208.15"/><use href="#m" x="780.27" y="205.64"/><use href="#m" x="792.15" y="209.83"/><use href="#m" x="804.02" y="203.34"/><use href="#m" x="815.9" y="202.71"/><use href="#m" x="827.77" y="206.06"/><use href="#m" x="839.65" y="203.34"/><use href="#m" x="851.52" y="192.02"/><use href="#m" x="863.4" y="182.8"/><use href="#m" x="875.27" y="178.61"/><use href="#m" x="887.15" y="176.52"/><use href="#m" x="899.02" y="165.83"/><use href="#m" x="910.9" y="159.55"/><use href="#m" x="922.77" y="186.16"/><use href="#m" x="934.65" y="163.32"/><use href="#m" x="946.52" y="169.61"/><use href="#m" x="958.4" y="178.61"/></g>
</g>
<path class="gv" d="M720.9,134.2V218M768.4,134.2V218M815.9,134.2V218M863.4,134.2V218M910.9,134.2V218"/>
<path class="gh" d="M673.4,207.53H958.4M673.4,197.05H958.4M673.4,186.57H958.4M673.4,176.1H958.4M673.4,165.62H958.4M673.4,155.15H958.4M673.4,144.68H958.4"/>
<path class="tk" d="M673.4,218v-6 M673.4,134.2v6M720.9,218v-6 M720.9,134.2v6M768.4,218v-6 M768.4,134.2v6M815.9,218v-6 M815.9,134.2v6M863.4,218v-6 M863.4,134.2v6M910.9,218v-6 M910.9,134.2v6M958.4,218v-6 M958.4,134.2v6M673.4,218h6 M958.4,218h-6M673.4,207.53h6 M958.4,207.53h-6M673.4,197.05h6 M958.4,197.05h-6M673.4,186.57h6 M958.4,186.57h-6M673.4,176.1h6 M958.4,176.1h-6M673.4,165.62h6 M958.4,165.62h-6M673.4,155.15h6 M958.4,155.15h-6M673.4,144.68h6 M958.4,144.68h-6M673.4,134.2h6 M958.4,134.2h-6"/>
<path class="tkm" d="M697.15,218v-4 M697.15,134.2v4M744.65,218v-4 M744.65,134.2v4M792.15,218v-4 M792.15,134.2v4M839.65,218v-4 M839.65,134.2v4M887.15,218v-4 M887.15,134.2v4M934.65,218v-4 M934.65,134.2v4M673.4,212.76h4 M958.4,212.76h-4M673.4,202.29h4 M958.4,202.29h-4M673.4,191.81h4 M958.4,191.81h-4M673.4,181.34h4 M958.4,181.34h-4M673.4,170.86h4 M958.4,170.86h-4M673.4,160.39h4 M958.4,160.39h-4M673.4,149.91h4 M958.4,149.91h-4M673.4,139.44h4 M958.4,139.44h-4"/>
<rect class="fr" x="673.4" y="134.2" width="285" height="83.8"/>
<text class="tl" text-anchor="end" x="668.4" y="221">15</text>
<text class="tl" text-anchor="end" x="668.4" y="210.53">20</text>
<text class="tl" text-anchor="end" x="668.4" y="200.05">25</text>
<text class="tl" text-anchor="end" x="668.4" y="189.57">30</text>
<text class="tl" text-anchor="end" x="668.4" y="179.1">35</text>
<text class="tl" text-anchor="end" x="668.4" y="168.62">40</text>
<text class="tl" text-anchor="end" x="668.4" y="158.15">45</text>
<text class="tl" text-anchor="end" x="668.4" y="147.68">50</text>
<text class="tl" text-anchor="end" x="668.4" y="137.2">55</text>
<text class="tl" text-anchor="middle" x="673.4" y="229.4">0</text>
<text class="tl" text-anchor="middle" x="720.9" y="229.4">4</text>
<text class="tl" text-anchor="middle" x="768.4" y="229.4">8</text>
<text class="tl" text-anchor="middle" x="815.9" y="229.4">12</text>
<text class="tl" text-anchor="middle" x="863.4" y="229.4">16</text>
<text class="tl" text-anchor="middle" x="910.9" y="229.4">20</text>
<text class="tl" text-anchor="middle" x="958.4" y="229.4">24</text>
<text class="ct" y="130.9"><tspan x="902.5" textLength="15.8" lengthAdjust="spacingAndGlyphs">FSP</tspan> <tspan x="921.9" textLength="37" lengthAdjust="spacingAndGlyphs">(ug/m3)</tspan></text>
</g>
<g>
<clipPath id="cp6"><rect x="23.4" y="242.3" width="285" height="83.8"/></clipPath>
<g clip-path="url(#cp6)">
<polyline class="ln" stroke="#00ffff" points="23.4,301.55 35.27,293.55 47.15,293.55 59.02,293.55 70.9,293.55 82.78,293.55 94.65,293.55 106.53,293.55 118.4,293.55 130.28,293.55 142.15,293.55 154.03,285.56 165.9,285.56 177.78,293.55 189.65,293.55 201.53,301.55 213.4,261.57 225.28,245.57 237.15,245.57 249.03,269.56 260.9,285.56 272.77,285.56 284.65,293.55 296.52,285.56 308.4,285.56"/>
<g stroke="#00ffff"><use href="#m" x="23.4" y="301.55"/><use href="#m" x="35.27" y="293.55"/><use href="#m" x="47.15" y="293.55"/><use href="#m" x="59.02" y="293.55"/><use href="#m" x="70.9" y="293.55"/><use href="#m" x="82.78" y="293.55"/><use href="#m" x="94.65" y="293.55"/><use href="#m" x="106.53" y="293.55"/><use href="#m" x="118.4" y="293.55"/><use href="#m" x="130.28" y="293.55"/><use href="#m" x="142.15" y="293.55"/><use href="#m" x="154.03" y="285.56"/><use href="#m" x="165.9" y="285.56"/><use href="#m" x="177.78" y="293.55"/><use href="#m" x="189.65" y="293.55"/><use href="#m" x="201.53" y="301.55"/><use href="#m" x="213.4" y="261.57"/><use href="#m" x="225.28" y="245.57"/><use href="#m" x="237.15" y="245.57"/><use href="#m" x="249.03" y="269.56"/><use href="#m" x="260.9" y="285.56"/><use href="#m" x="272.77" y="285.56"/><use href="#m" x="284.65" y="293.55"/><use href="#m" x="296.52" y="285.56"/><use href="#m" x="308.4" y="285.56"/></g>
<polyline class="ln" stroke="#00ff00" points="23.4,301.55 35.27,301.55 47.15,301.55 59.02,301.55 70.9,301.55 82.78,301.55 94.65,293.55 106.53,285.56 118.4,277.56 130.28,253.57 142.15,269.56 154.03,277.56 165.9,293.55 177.78,301.55 189.65,301.55 201.53,285.56 213.4,261.57 225.28,253.57 237.15,261.57 249.03,293.55 260.9,285.56 272.77,285.56 284.65,293.55 296.52,285.56 308.4,285.56"/>
<g stroke="#00ff00"><use href="#m" x="23.4" y="301.55"/><use href="#m" x="35.27" y="301.55"/><use href="#m" x="47.15" y="301.55"/><use href="#m" x="59.02" y="301.55"/><use href="#m" x="70.9" y="301.55"/><use href="#m" x="82.78" y="301.55"/><use href="#m" x="94.65" y="293.55"/><use href="#m" x="106.53" y="285.56"/><use href="#m" x="118.4" y="277.56"/><use href="#m" x="130.28" y="253.57"/><use href="#m" x="142.15" y="269.56"/><use href="#m" x="154.03" y="277.56"/><use href="#m" x="165.9" y="293.55"/><use href="#m" x="177.78" y="301.55"/><use href="#m" x="189.65" y="301.55"/><use href="#m" x="201.53" y="285.56"/><use href="#m" x="213.4" y="261.57"/><use href="#m" x="225.28" y="253.57"/><use href="#m" x="237.15" y="261.57"/><use href="#m" x="249.03" y="293.55"/><use href="#m" x="260.9" y="285.56"/><use href="#m" x="272.77" y="285.56"/><use href="#m" x="284.65" y="293.55"/><use href="#m" x="296.52" y="285.56"/><use href="#m" x="308.4" y="285.56"/></g>
<polyline class="ln" stroke="#0000ff" points="23.4,285.56 35.27,293.55 47.15,309.55 59.02,309.55 70.9,309.55 82.78,301.55 94.65,293.55 106.53,285.56 118.4,277.56 130.28,277.56 142.15,277.56 154.03,285.56 165.9,285.56 177.78,293.55 189.65,293.55 201.53,285.56 213.4,293.55 225.28,293.55 237.15,277.56 249.03,293.55 260.9,285.56 272.77,293.55 284.65,293.55 296.52,301.55 308.4,309.55"/>
<g stroke="#0000ff"><use href="#m" x="23.4" y="285.56"/><use href="#m" x="35.27" y="293.55"/><use href="#m" x="47.15" y="309.55"/><use href="#m" x="59.02" y="309.55"/><use href="#m" x="70.9" y="309.55"/><use href="#m" x="82.78" y="301.55"/><use href="#m" x="94.65" y="293.55"/><use href="#m" x="106.53" y="285.56"/><use href="#m" x="118.4" y="277.56"/><use href="#m" x="130.28" y="277.56"/><use href="#m" x="142.15" y="277.56"/><use href="#m" x="154.03" y="285.56"/><use href="#m" x="165.9" y="285.56"/><use href="#m" x="177.78" y="293.55"/><use href="#m" x="189.65" y="293.55"/><use href="#m" x="201.53" y="285.56"/><use href="#m" x="213.4" y="293.55"/><use href="#m" x="225.28" y="293.55"/><use href="#m" x="237.15" y="277.56"/><use href="#m" x="249.03" y="293.55"/><use href="#m" x="260.9" y="285.56"/><use href="#m" x="272.77" y="293.55"/><use href="#m" x="284.65" y="293.55"/><use href="#m" x="296.52" y="301.55"/><use href="#m" x="308.4" y="309.55"/></g>
<polyline class="ln" stroke="#ff0000" points="23.4,309.55 35.27,309.55 47.15,317.54 59.02,309.55 70.9,293.55 82.78,285.56 94.65,285.56 106.53,285.56 118.4,277.56 130.28,285.56 142.15,285.56 154.03,277.56 165.9,285.56 177.78,285.56 189.65,285.56 201.53,285.56 213.4,269.56 225.28,277.56 237.15,285.56 249.03,293.55 260.9,293.55 272.77,293.55 284.65,301.55 296.52,301.55 308.4,301.55"/>
<g stroke="#ff0000"><use href="#m" x="23.4" y="309.55"/><use href="#m" x="35.27" y="309.55"/><use href="#m" x="47.15" y="317.54"/><use href="#m" x="59.02" y="309.55"/><use href="#m" x="70.9" y="293.55"/><use href="#m" x="82.78" y="285.56"/><use href="#m" x="94.65" y="285.56"/><use href="#m" x="106.53" y="285.56"/><use href="#m" x="118.4" y="277.56"/><use href="#m" x="130.28" y="285.56"/><use href="#m" x="142.15" y="285.56"/><use href="#m" x="154.03" y="277.56"/><use href="#m" x="165.9" y="285.56"/><use href="#m" x="177.78" y="285.56"/><use href="#m" x="189.65" y="285.56"/><use href="#m" x="201.53" y="285.56"/><use href="#m" x="213.4" y="269.56"/><use href="#m" x="225.28" y="277.56"/><use href="#m" x="237.15" y="285.56"/><use href="#m" x="249.03" y="293.55"/><use href="#m" x="260.9" y="293.55"/><use href="#m" x="272.77" y="293.55"/><use href="#m" x="284.65" y="301.55"/><use href="#m" x="296.52" y="301.55"/><use href="#m" x="308.4" y="301.55"/></g>
</g>
<path class="gv" d="M70.9,242.3V326.1M118.4,242.3V326.1M165.9,242.3V326.1M213.4,242.3V326.1M260.9,242.3V326.1"/>
<path class="gh" d="M23.4,315.62H308.4M23.4,305.15H308.4M23.4,294.68H308.4M23.4,284.2H308.4M23.4,273.73H308.4M23.4,263.25H308.4M23.4,252.78H308.4"/>
<path class="tk" d="M23.4,326.1v-6 M23.4,242.3v6M70.9,326.1v-6 M70.9,242.3v6M118.4,326.1v-6 M118.4,242.3v6M165.9,326.1v-6 M165.9,242.3v6M213.4,326.1v-6 M213.4,242.3v6M260.9,326.1v-6 M260.9,242.3v6M308.4,326.1v-6 M308.4,242.3v6M23.4,326.1h6 M308.4,326.1h-6M23.4,315.62h6 M308.4,315.62h-6M23.4,305.15h6 M308.4,305.15h-6M23.4,294.68h6 M308.4,294.68h-6M23.4,284.2h6 M308.4,284.2h-6M23.4,273.73h6 M308.4,273.73h-6M23.4,263.25h6 M308.4,263.25h-6M23.4,252.78h6 M308.4,252.78h-6M23.4,242.3h6 M308.4,242.3h-6"/>
<path class="tkm" d="M47.15,326.1v-4 M47.15,242.3v4M94.65,326.1v-4 M94.65,242.3v4M142.15,326.1v-4 M142.15,242.3v4M189.65,326.1v-4 M189.65,242.3v4M237.15,326.1v-4 M237.15,242.3v4M284.65,326.1v-4 M284.65,242.3v4M23.4,320.86h4 M308.4,320.86h-4M23.4,310.39h4 M308.4,310.39h-4M23.4,299.91h4 M308.4,299.91h-4M23.4,289.44h4 M308.4,289.44h-4M23.4,278.96h4 M308.4,278.96h-4M23.4,268.49h4 M308.4,268.49h-4M23.4,258.01h4 M308.4,258.01h-4M23.4,247.54h4 M308.4,247.54h-4"/>
<rect class="fr" x="23.4" y="242.3" width="285" height="83.8"/>
<text class="tl" text-anchor="end" x="18.4" y="329.1">1.5</text>
<text class="tl" text-anchor="end" x="18.4" y="318.62">2.0</text>
<text class="tl" text-anchor="end" x="18.4" y="308.15">2.5</text>
<text class="tl" text-anchor="end" x="18.4" y="297.68">3.0</text>
<text class="tl" text-anchor="end" x="18.4" y="287.2">3.5</text>
<text class="tl" text-anchor="end" x="18.4" y="276.73">4.0</text>
<text class="tl" text-anchor="end" x="18.4" y="266.25">4.5</text>
<text class="tl" text-anchor="end" x="18.4" y="255.78">5.0</text>
<text class="tl" text-anchor="end" x="18.4" y="245.3">5.5</text>
<text class="tl" text-anchor="middle" x="23.4" y="337.5">0</text>
<text class="tl" text-anchor="middle" x="70.9" y="337.5">4</text>
<text class="tl" text-anchor="middle" x="118.4" y="337.5">8</text>
<text class="tl" text-anchor="middle" x="165.9" y="337.5">12</text>
<text class="tl" text-anchor="middle" x="213.4" y="337.5">16</text>
<text class="tl" text-anchor="middle" x="260.9" y="337.5">20</text>
<text class="tl" text-anchor="middle" x="308.4" y="337.5">24</text>
<text class="ct" y="239"><tspan x="266.9" textLength="15.4" lengthAdjust="spacingAndGlyphs">SO2</tspan> <tspan x="286.6" textLength="22.6" lengthAdjust="spacingAndGlyphs">(ppb)</tspan></text>
</g>
<g>
<clipPath id="cp7"><rect x="348.2" y="242.3" width="285" height="83.8"/></clipPath>
<g clip-path="url(#cp7)">
<polyline class="ln" stroke="#00ffff" points="348.2,305.49 371.95,305.07 383.82,304.65 395.7,303.22 407.57,304.65 419.45,306.83 431.32,308.59 443.2,313.28 455.07,313.45 466.95,314.54 478.82,315.37 490.7,312.27 502.57,307.5 514.45,304.98 526.33,301.13 538.2,273.81 550.08,262.66 561.95,280.85 573.83,307.5 585.7,314.95 597.58,317.13 609.45,317.55 621.33,321.07 633.2,323.59"/>
<g stroke="#00ffff"><use href="#m" x="348.2" y="305.49"/><use href="#m" x="371.95" y="305.07"/><use href="#m" x="383.82" y="304.65"/><use href="#m" x="395.7" y="303.22"/><use href="#m" x="407.57" y="304.65"/><use href="#m" x="419.45" y="306.83"/><use href="#m" x="431.32" y="308.59"/><use href="#m" x="443.2" y="313.28"/><use href="#m" x="455.07" y="313.45"/><use href="#m" x="466.95" y="314.54"/><use href="#m" x="478.82" y="315.37"/><use href="#m" x="490.7" y="312.27"/><use href="#m" x="502.57" y="307.5"/><use href="#m" x="514.45" y="304.98"/><use href="#m" x="526.33" y="301.13"/><use href="#m" x="538.2" y="273.81"/><use href="#m" x="550.08" y="262.66"/><use href="#m" x="561.95" y="280.85"/><use href="#m" x="573.83" y="307.5"/><use href="#m" x="585.7" y="314.95"/><use href="#m" x="597.58" y="317.13"/><use href="#m" x="609.45" y="317.55"/><use href="#m" x="621.33" y="321.07"/><use href="#m" x="633.2" y="323.59"/></g>
<polyline class="ln" stroke="#00ff00" points="348.2,323.92 360.07,322.16 371.95,324 383.82,324 395.7,319.9 407.57,319.9 419.45,324.26 431.32,324.26 443.2,324.09 455.07,324.17 466.95,321.66 478.82,311.77 490.7,300.54 502.57,297.86 514.45,281.85 526.33,259.9 538.2,258.39 550.08,264.84 561.95,290.4 573.83,306.41 585.7,319.23 597.58,323.5 609.45,323.92 621.33,323.92 633.2,323.92"/>
<g stroke="#00ff00"><use href="#m" x="348.2" y="323.92"/><use href="#m" x="360.07" y="322.16"/><use href="#m" x="371.95" y="324"/><use href="#m" x="383.82" y="324"/><use href="#m" x="395.7" y="319.9"/><use href="#m" x="407.57" y="319.9"/><use href="#m" x="419.45" y="324.26"/><use href="#m" x="431.32" y="324.26"/><use href="#m" x="443.2" y="324.09"/><use href="#m" x="455.07" y="324.17"/><use href="#m" x="466.95" y="321.66"/><use href="#m" x="478.82" y="311.77"/><use href="#m" x="490.7" y="300.54"/><use href="#m" x="502.57" y="297.86"/><use href="#m" x="514.45" y="281.85"/><use href="#m" x="526.33" y="259.9"/><use href="#m" x="538.2" y="258.39"/><use href="#m" x="550.08" y="264.84"/><use href="#m" x="561.95" y="290.4"/><use href="#m" x="573.83" y="306.41"/><use href="#m" x="585.7" y="319.23"/><use href="#m" x="597.58" y="323.5"/><use href="#m" x="609.45" y="323.92"/><use href="#m" x="621.33" y="323.92"/><use href="#m" x="633.2" y="323.92"/></g>
<polyline class="ln" stroke="#0000ff" points="348.2,324.59 360.07,324.17 371.95,322.92 383.82,321.99 395.7,324.17 407.57,324.17 419.45,319.23 431.32,323.08 443.2,321.41 455.07,319.23 466.95,316.04 478.82,307.92 490.7,305.4 502.57,296.43 514.45,288.73 526.33,291.07 538.2,286.55 550.08,279.76 561.95,295.76 573.83,311.35 585.7,316.46 597.58,318.64 609.45,321.83 621.33,315.37 633.2,315.37"/>
<g stroke="#0000ff"><use href="#m" x="348.2" y="324.59"/><use href="#m" x="360.07" y="324.17"/><use href="#m" x="371.95" y="322.92"/><use href="#m" x="383.82" y="321.99"/><use href="#m" x="395.7" y="324.17"/><use href="#m" x="407.57" y="324.17"/><use href="#m" x="419.45" y="319.23"/><use href="#m" x="431.32" y="323.08"/><use href="#m" x="443.2" y="321.41"/><use href="#m" x="455.07" y="319.23"/><use href="#m" x="466.95" y="316.04"/><use href="#m" x="478.82" y="307.92"/><use href="#m" x="490.7" y="305.4"/><use href="#m" x="502.57" y="296.43"/><use href="#m" x="514.45" y="288.73"/><use href="#m" x="526.33" y="291.07"/><use href="#m" x="538.2" y="286.55"/><use href="#m" x="550.08" y="279.76"/><use href="#m" x="561.95" y="295.76"/><use href="#m" x="573.83" y="311.35"/><use href="#m" x="585.7" y="316.46"/><use href="#m" x="597.58" y="318.64"/><use href="#m" x="609.45" y="321.83"/><use href="#m" x="621.33" y="315.37"/><use href="#m" x="633.2" y="315.37"/></g>
<polyline class="ln" stroke="#ff0000" points="348.2,314.95 360.07,314.37 371.95,316.04 383.82,318.64 395.7,314.37 407.57,306.83 419.45,309.17 431.32,309.17 443.2,312.86 455.07,307.5 466.95,307.08 478.82,307.5 490.7,302.64 502.57,295.76 514.45,298.53 526.33,287.89 538.2,261.57 550.08,258.39 561.95,273.81 573.83,288.31 585.7,300.04 597.58,313.28 609.45,313.28 621.33,318.14 633.2,322.92"/>
<g stroke="#ff0000"><use href="#m" x="348.2" y="314.95"/><use href="#m" x="360.07" y="314.37"/><use href="#m" x="371.95" y="316.04"/><use href="#m" x="383.82" y="318.64"/><use href="#m" x="395.7" y="314.37"/><use href="#m" x="407.57" y="306.83"/><use href="#m" x="419.45" y="309.17"/><use href="#m" x="431.32" y="309.17"/><use href="#m" x="443.2" y="312.86"/><use href="#m" x="455.07" y="307.5"/><use href="#m" x="466.95" y="307.08"/><use href="#m" x="478.82" y="307.5"/><use href="#m" x="490.7" y="302.64"/><use href="#m" x="502.57" y="295.76"/><use href="#m" x="514.45" y="298.53"/><use href="#m" x="526.33" y="287.89"/><use href="#m" x="538.2" y="261.57"/><use href="#m" x="550.08" y="258.39"/><use href="#m" x="561.95" y="273.81"/><use href="#m" x="573.83" y="288.31"/><use href="#m" x="585.7" y="300.04"/><use href="#m" x="597.58" y="313.28"/><use href="#m" x="609.45" y="313.28"/><use href="#m" x="621.33" y="318.14"/><use href="#m" x="633.2" y="322.92"/></g>
</g>
<path class="gv" d="M395.7,242.3V326.1M443.2,242.3V326.1M490.7,242.3V326.1M538.2,242.3V326.1M585.7,242.3V326.1"/>
<path class="gh" d="M348.2,309.34H633.2M348.2,292.58H633.2M348.2,275.82H633.2M348.2,259.06H633.2"/>
<path class="tk" d="M348.2,326.1v-6 M348.2,242.3v6M395.7,326.1v-6 M395.7,242.3v6M443.2,326.1v-6 M443.2,242.3v6M490.7,326.1v-6 M490.7,242.3v6M538.2,326.1v-6 M538.2,242.3v6M585.7,326.1v-6 M585.7,242.3v6M633.2,326.1v-6 M633.2,242.3v6M348.2,326.1h6 M633.2,326.1h-6M348.2,309.34h6 M633.2,309.34h-6M348.2,292.58h6 M633.2,292.58h-6M348.2,275.82h6 M633.2,275.82h-6M348.2,259.06h6 M633.2,259.06h-6M348.2,242.3h6 M633.2,242.3h-6"/>
<path class="tkm" d="M371.95,326.1v-4 M371.95,242.3v4M419.45,326.1v-4 M419.45,242.3v4M466.95,326.1v-4 M466.95,242.3v4M514.45,326.1v-4 M514.45,242.3v4M561.95,326.1v-4 M561.95,242.3v4M609.45,326.1v-4 M609.45,242.3v4M348.2,317.72h4 M633.2,317.72h-4M348.2,300.96h4 M633.2,300.96h-4M348.2,284.2h4 M633.2,284.2h-4M348.2,267.44h4 M633.2,267.44h-4M348.2,250.68h4 M633.2,250.68h-4"/>
<rect class="fr" x="348.2" y="242.3" width="285" height="83.8"/>
<text class="tl" text-anchor="end" x="343.2" y="329.1">0</text>
<text class="tl" text-anchor="end" x="343.2" y="312.34">20</text>
<text class="tl" text-anchor="end" x="343.2" y="295.58">40</text>
<text class="tl" text-anchor="end" x="343.2" y="278.82">60</text>
<text class="tl" text-anchor="end" x="343.2" y="262.06">80</text>
<text class="tl" text-anchor="end" x="343.2" y="245.3">100</text>
<text class="tl" text-anchor="middle" x="348.2" y="337.5">0</text>
<text class="tl" text-anchor="middle" x="395.7" y="337.5">4</text>
<text class="tl" text-anchor="middle" x="443.2" y="337.5">8</text>
<text class="tl" text-anchor="middle" x="490.7" y="337.5">12</text>
<text class="tl" text-anchor="middle" x="538.2" y="337.5">16</text>
<text class="tl" text-anchor="middle" x="585.7" y="337.5">20</text>
<text class="tl" text-anchor="middle" x="633.2" y="337.5">24</text>
<text class="ct" y="239"><tspan x="597.6" textLength="9.7" lengthAdjust="spacingAndGlyphs">O3</tspan> <tspan x="611.6" textLength="22.3" lengthAdjust="spacingAndGlyphs">(ppb)</tspan></text>
</g>
<g>
<clipPath id="cp8"><rect x="673.4" y="242.3" width="285" height="83.8"/></clipPath>
<g clip-path="url(#cp8)">
<polyline class="ln" stroke="#00ffff" points="673.4,314.61 685.27,317.12 697.15,317.12 709.02,315.57 720.9,317.72 732.77,316.64 744.65,316.04 756.52,317.12 768.4,313.89 780.27,313.29 792.15,305.39 804.02,297.85 815.9,298.33 827.77,296.17 839.65,295.81 851.52,294.02 863.4,297.85 875.27,297.85 887.15,292.58 899.02,275.1 910.9,264.81 922.77,262.05 934.65,263.25 946.52,268.64 958.4,264.33"/>
<g stroke="#00ffff"><use href="#m" x="673.4" y="314.61"/><use href="#m" x="685.27" y="317.12"/><use href="#m" x="697.15" y="317.12"/><use href="#m" x="709.02" y="315.57"/><use href="#m" x="720.9" y="317.72"/><use href="#m" x="732.77" y="316.64"/><use href="#m" x="744.65" y="316.04"/><use href="#m" x="756.52" y="317.12"/><use href="#m" x="768.4" y="313.89"/><use href="#m" x="780.27" y="313.29"/><use href="#m" x="792.15" y="305.39"/><use href="#m" x="804.02" y="297.85"/><use href="#m" x="815.9" y="298.33"/><use href="#m" x="827.77" y="296.17"/><use href="#m" x="839.65" y="295.81"/><use href="#m" x="851.52" y="294.02"/><use href="#m" x="863.4" y="297.85"/><use href="#m" x="875.27" y="297.85"/><use href="#m" x="887.15" y="292.58"/><use href="#m" x="899.02" y="275.1"/><use href="#m" x="910.9" y="264.81"/><use href="#m" x="922.77" y="262.05"/><use href="#m" x="934.65" y="263.25"/><use href="#m" x="946.52" y="268.64"/><use href="#m" x="958.4" y="264.33"/></g>
<polyline class="ln" stroke="#00ff00" points="673.4,264.33 685.27,272.95 697.15,275.1 709.02,275.94 720.9,283.96 732.77,283.36 744.65,266.48 756.52,271.63 768.4,278.09 780.27,268.64 792.15,277.14 804.02,263.73 815.9,277.38 827.77,278.69 839.65,284.44 851.52,289.35 863.4,292.58 875.27,293.66 887.15,287.19 899.02,277.62 910.9,262.29 922.77,245.53 934.65,245.53 946.52,246.61 958.4,252"/>
<g stroke="#00ff00"><use href="#m" x="673.4" y="264.33"/><use href="#m" x="685.27" y="272.95"/><use href="#m" x="697.15" y="275.1"/><use href="#m" x="709.02" y="275.94"/><use href="#m" x="720.9" y="283.96"/><use href="#m" x="732.77" y="283.36"/><use href="#m" x="744.65" y="266.48"/><use href="#m" x="756.52" y="271.63"/><use href="#m" x="768.4" y="278.09"/><use href="#m" x="780.27" y="268.64"/><use href="#m" x="792.15" y="277.14"/><use href="#m" x="804.02" y="263.73"/><use href="#m" x="815.9" y="277.38"/><use href="#m" x="827.77" y="278.69"/><use href="#m" x="839.65" y="284.44"/><use href="#m" x="851.52" y="289.35"/><use href="#m" x="863.4" y="292.58"/><use href="#m" x="875.27" y="293.66"/><use href="#m" x="887.15" y="287.19"/><use href="#m" x="899.02" y="277.62"/><use href="#m" x="910.9" y="262.29"/><use href="#m" x="922.77" y="245.53"/><use href="#m" x="934.65" y="245.53"/><use href="#m" x="946.52" y="246.61"/><use href="#m" x="958.4" y="252"/></g>
<polyline class="ln" stroke="#0000ff" points="673.4,252 685.27,261.57 697.15,280.85 709.02,288.27 720.9,286.59 732.77,286.59 744.65,301.08 756.52,293.66 768.4,296.77 780.27,303.23 792.15,310.66 804.02,313.89 815.9,305.39 827.77,304.31 839.65,303.23 851.52,302.76 863.4,302.76 875.27,304.31 887.15,294.73 899.02,285.76 910.9,273.31 922.77,266.96 934.65,262.65 946.52,275.46 958.4,280.85"/>
<g stroke="#0000ff"><use href="#m" x="673.4" y="252"/><use href="#m" x="685.27" y="261.57"/><use href="#m" x="697.15" y="280.85"/><use href="#m" x="709.02" y="288.27"/><use href="#m" x="720.9" y="286.59"/><use href="#m" x="732.77" y="286.59"/><use href="#m" x="744.65" y="301.08"/><use href="#m" x="756.52" y="293.66"/><use href="#m" x="768.4" y="296.77"/><use href="#m" x="780.27" y="303.23"/><use href="#m" x="792.15" y="310.66"/><use href="#m" x="804.02" y="313.89"/><use href="#m" x="815.9" y="305.39"/><use href="#m" x="827.77" y="304.31"/><use href="#m" x="839.65" y="303.23"/><use href="#m" x="851.52" y="302.76"/><use href="#m" x="863.4" y="302.76"/><use href="#m" x="875.27" y="304.31"/><use href="#m" x="887.15" y="294.73"/><use href="#m" x="899.02" y="285.76"/><use href="#m" x="910.9" y="273.31"/><use href="#m" x="922.77" y="266.96"/><use href="#m" x="934.65" y="262.65"/><use href="#m" x="946.52" y="275.46"/><use href="#m" x="958.4" y="280.85"/></g>
<polyline class="ln" stroke="#ff0000" points="673.4,280.37 685.27,282.28 697.15,283.96 709.02,289.83 720.9,310.3 732.77,316.64 744.65,315.57 756.52,322.03 768.4,317.72 780.27,320.95 792.15,318.8 804.02,314.61 815.9,310.54 827.77,310.66 839.65,303.23 851.52,309.7 863.4,309.7 875.27,307.54 887.15,296.77 899.02,293.66 910.9,296.77 922.77,268.64 934.65,268.64 946.52,264.33 958.4,269.71"/>
<g stroke="#ff0000"><use href="#m" x="673.4" y="280.37"/><use href="#m" x="685.27" y="282.28"/><use href="#m" x="697.15" y="283.96"/><use href="#m" x="709.02" y="289.83"/><use href="#m" x="720.9" y="310.3"/><use href="#m" x="732.77" y="316.64"/><use href="#m" x="744.65" y="315.57"/><use href="#m" x="756.52" y="322.03"/><use href="#m" x="768.4" y="317.72"/><use href="#m" x="780.27" y="320.95"/><use href="#m" x="792.15" y="318.8"/><use href="#m" x="804.02" y="314.61"/><use href="#m" x="815.9" y="310.54"/><use href="#m" x="827.77" y="310.66"/><use href="#m" x="839.65" y="303.23"/><use href="#m" x="851.52" y="309.7"/><use href="#m" x="863.4" y="309.7"/><use href="#m" x="875.27" y="307.54"/><use href="#m" x="887.15" y="296.77"/><use href="#m" x="899.02" y="293.66"/><use href="#m" x="910.9" y="296.77"/><use href="#m" x="922.77" y="268.64"/><use href="#m" x="934.65" y="268.64"/><use href="#m" x="946.52" y="264.33"/><use href="#m" x="958.4" y="269.71"/></g>
</g>
<path class="gv" d="M720.9,242.3V326.1M768.4,242.3V326.1M815.9,242.3V326.1M863.4,242.3V326.1M910.9,242.3V326.1"/>
<path class="gh" d="M673.4,314.13H958.4M673.4,302.16H958.4M673.4,290.19H958.4M673.4,278.21H958.4M673.4,266.24H958.4M673.4,254.27H958.4"/>
<path class="tk" d="M673.4,326.1v-6 M673.4,242.3v6M720.9,326.1v-6 M720.9,242.3v6M768.4,326.1v-6 M768.4,242.3v6M815.9,326.1v-6 M815.9,242.3v6M863.4,326.1v-6 M863.4,242.3v6M910.9,326.1v-6 M910.9,242.3v6M958.4,326.1v-6 M958.4,242.3v6M673.4,326.1h6 M958.4,326.1h-6M673.4,314.13h6 M958.4,314.13h-6M673.4,302.16h6 M958.4,302.16h-6M673.4,290.19h6 M958.4,290.19h-6M673.4,278.21h6 M958.4,278.21h-6M673.4,266.24h6 M958.4,266.24h-6M673.4,254.27h6 M958.4,254.27h-6M673.4,242.3h6 M958.4,242.3h-6"/>
<path class="tkm" d="M697.15,326.1v-4 M697.15,242.3v4M744.65,326.1v-4 M744.65,242.3v4M792.15,326.1v-4 M792.15,242.3v4M839.65,326.1v-4 M839.65,242.3v4M887.15,326.1v-4 M887.15,242.3v4M934.65,326.1v-4 M934.65,242.3v4M673.4,320.11h4 M958.4,320.11h-4M673.4,308.14h4 M958.4,308.14h-4M673.4,296.17h4 M958.4,296.17h-4M673.4,284.2h4 M958.4,284.2h-4M673.4,272.23h4 M958.4,272.23h-4M673.4,260.26h4 M958.4,260.26h-4M673.4,248.29h4 M958.4,248.29h-4"/>
<rect class="fr" x="673.4" y="242.3" width="285" height="83.8"/>
<text class="tl" text-anchor="end" x="668.4" y="329.1">0.4</text>
<text class="tl" text-anchor="end" x="668.4" y="317.13">0.5</text>
<text class="tl" text-anchor="end" x="668.4" y="305.16">0.6</text>
<text class="tl" text-anchor="end" x="668.4" y="293.19">0.7</text>
<text class="tl" text-anchor="end" x="668.4" y="281.21">0.8</text>
<text class="tl" text-anchor="end" x="668.4" y="269.24">0.9</text>
<text class="tl" text-anchor="end" x="668.4" y="257.27">1.0</text>
<text class="tl" text-anchor="end" x="668.4" y="245.3">1.1</text>
<text class="tl" text-anchor="middle" x="673.4" y="337.5">0</text>
<text class="tl" text-anchor="middle" x="720.9" y="337.5">4</text>
<text class="tl" text-anchor="middle" x="768.4" y="337.5">8</text>
<text class="tl" text-anchor="middle" x="815.9" y="337.5">12</text>
<text class="tl" text-anchor="middle" x="863.4" y="337.5">16</text>
<text class="tl" text-anchor="middle" x="910.9" y="337.5">20</text>
<text class="tl" text-anchor="middle" x="958.4" y="337.5">24</text>
<text class="ct" y="239"><tspan x="919" textLength="9.7" lengthAdjust="spacingAndGlyphs">CO</tspan> <tspan x="933" textLength="25.9" lengthAdjust="spacingAndGlyphs">(ppm)</tspan></text>
</g>
</svg>
</body></html>
